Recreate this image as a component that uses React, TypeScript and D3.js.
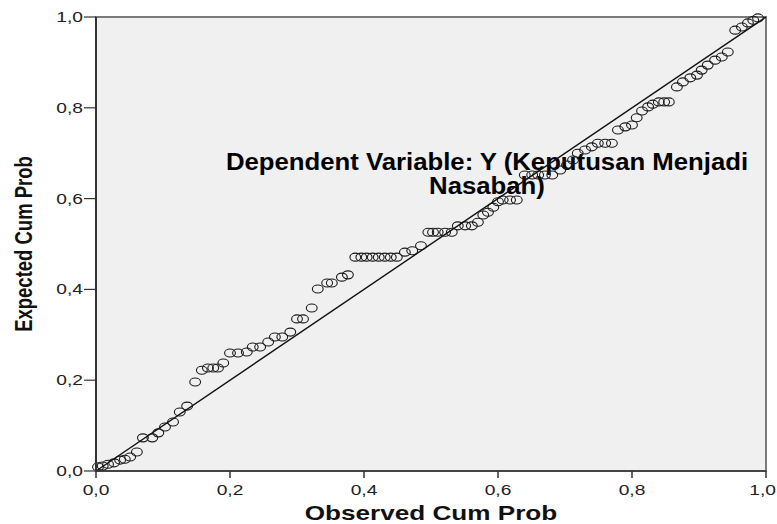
import React from "react";
import * as d3 from "d3";

const observed = [
  0.003, 0.01, 0.018, 0.027, 0.036, 0.043, 0.051, 0.061, 0.07, 0.084,
  0.093, 0.103, 0.115, 0.125, 0.136, 0.148, 0.158, 0.167, 0.175, 0.182,
  0.19, 0.2, 0.212, 0.225, 0.234, 0.245, 0.257, 0.267, 0.278, 0.29,
  0.3, 0.309, 0.322, 0.331, 0.345, 0.352, 0.367, 0.376, 0.387, 0.396,
  0.404, 0.413, 0.422, 0.431, 0.44, 0.449, 0.461, 0.472, 0.485, 0.496,
  0.503, 0.51, 0.521, 0.531, 0.54, 0.551, 0.561, 0.57, 0.578, 0.585,
  0.593, 0.6, 0.607, 0.618, 0.628, 0.64, 0.651, 0.66, 0.67, 0.681,
  0.693, 0.703, 0.712, 0.719, 0.73, 0.74, 0.749, 0.76, 0.77, 0.779,
  0.79, 0.8, 0.807, 0.815, 0.824, 0.831, 0.84, 0.848, 0.855, 0.867,
  0.876, 0.887, 0.897, 0.904, 0.913, 0.924, 0.934, 0.943, 0.954, 0.964,
  0.973, 0.981, 0.988,
];

const expected = [
  0.009, 0.011, 0.015, 0.018, 0.024, 0.026, 0.031, 0.042, 0.073, 0.073,
  0.084, 0.097, 0.108, 0.13, 0.143, 0.196, 0.222, 0.227, 0.227, 0.227,
  0.238, 0.26, 0.26, 0.262, 0.273, 0.273, 0.284, 0.295, 0.295, 0.306,
  0.335, 0.335, 0.359, 0.401, 0.414, 0.414, 0.427, 0.432, 0.471, 0.471,
  0.471, 0.471, 0.471, 0.471, 0.471, 0.471, 0.482, 0.485, 0.496, 0.526,
  0.526, 0.526, 0.526, 0.526, 0.54, 0.54, 0.54, 0.548, 0.564, 0.57,
  0.581, 0.593, 0.597, 0.597, 0.597, 0.652, 0.652, 0.652, 0.652, 0.652,
  0.663, 0.674, 0.685, 0.7, 0.707, 0.714, 0.722, 0.722, 0.722, 0.751,
  0.758, 0.762, 0.778, 0.793, 0.802, 0.808, 0.813, 0.813, 0.813, 0.846,
  0.857, 0.866, 0.872, 0.883, 0.894, 0.905, 0.912, 0.923, 0.971, 0.978,
  0.987, 0.993, 0.998,
];

const ticks = [0, 0.2, 0.4, 0.6, 0.8, 1.0];
const tickLabels = ["0,0", "0,2", "0,4", "0,6", "0,8", "1,0"];
const titleLines = ["Dependent Variable: Y (Keputusan Menjadi", "Nasabah)"];

const width = 777;
const height = 524;
const margin = { top: 17, right: 11, bottom: 53, left: 96 };
const stretch = 1.37; // the original picture is drawn wider than tall

const font = "'Liberation Sans', Arial, sans-serif";

export default function App() {
  const x = d3
    .scaleLinear()
    .domain([0, 1])
    .range([margin.left, width - margin.right]);
  const y = d3
    .scaleLinear()
    .domain([0, 1])
    .range([height - margin.bottom, margin.top]);

  const points = observed.map((o, i) => ({ o, e: expected[i] }));

  return (
    <div style={{ position: "absolute", left: 0, top: 0 }}>
      <svg width={width} height={height} style={{ display: "block", background: "#fff" }}>
        {/* plot area */}
        <rect
          x={x(0)}
          y={y(1)}
          width={x(1) - x(0)}
          height={y(0) - y(1)}
          fill="#f0f0f0"
          stroke="#7a7a7a"
          strokeWidth={2}
        />

        {/* title */}
        {titleLines.map((t, i) => (
          <text
            key={t}
            transform={`translate(${487},${170 + i * 23.5}) scale(1.1,1)`}
            textAnchor="middle"
            fontFamily={font}
            fontWeight="bold"
            fontSize={23.4}
            fill="#000"
          >
            {t}
          </text>
        ))}

        {/* points */}
        {points.map((d, i) => (
          <ellipse
            key={i}
            cx={x(d.o)}
            cy={y(d.e)}
            rx={5.4}
            ry={4}
            fill="none"
            stroke="#1a1a1a"
            strokeWidth={1.1}
          />
        ))}

        {/* reference diagonal */}
        <line x1={x(0)} y1={y(0)} x2={x(1)} y2={y(1)} stroke="#111" strokeWidth={1.4} />

        {/* axes */}
        <line x1={x(0)} y1={y(0)} x2={x(0)} y2={y(1)} stroke="#333" strokeWidth={2} />
        <line x1={x(0)} y1={y(0)} x2={x(1)} y2={y(0)} stroke="#333" strokeWidth={1.5} />

        {ticks.map((t, i) => (
          <g key={"y" + t}>
            <line x1={x(0) - 12} x2={x(0)} y1={y(t)} y2={y(t)} stroke="#333" strokeWidth={1.2} />
            <text
              transform={`translate(${x(0) - 13},${y(t) + 5}) scale(${stretch},1)`}
              textAnchor="end"
              fontFamily={font}
              fontSize={14}
              fill="#222"
            >
              {tickLabels[i]}
            </text>
          </g>
        ))}

        {ticks.map((t, i) => {
          const last = i === ticks.length - 1;
          return (
            <g key={"x" + t}>
              <line x1={x(t)} x2={x(t)} y1={y(0)} y2={y(0) + 7} stroke="#333" strokeWidth={1.5} />
              <text
                transform={`translate(${last ? width - 1 : x(t)},${y(0) + 24}) scale(${stretch},1)`}
                textAnchor={last ? "end" : "middle"}
                fontFamily={font}
                fontSize={14}
                fill="#222"
              >
                {tickLabels[i]}
              </text>
            </g>
          );
        })}

        {/* axis titles */}
        <text
          transform={`translate(${(x(0) + x(1)) / 2},${520}) scale(1.34,1)`}
          textAnchor="middle"
          fontFamily={font}
          fontWeight="bold"
          fontSize={19.5}
          fill="#111"
        >
          Observed Cum Prob
        </text>
        <text
          transform={`translate(${32},${(y(0) + y(1)) / 2}) rotate(-90) scale(1,1.3)`}
          textAnchor="middle"
          fontFamily={font}
          fontWeight="bold"
          fontSize={18.5}
          fill="#111"
        >
          Expected Cum Prob
        </text>
      </svg>
    </div>
  );
}
